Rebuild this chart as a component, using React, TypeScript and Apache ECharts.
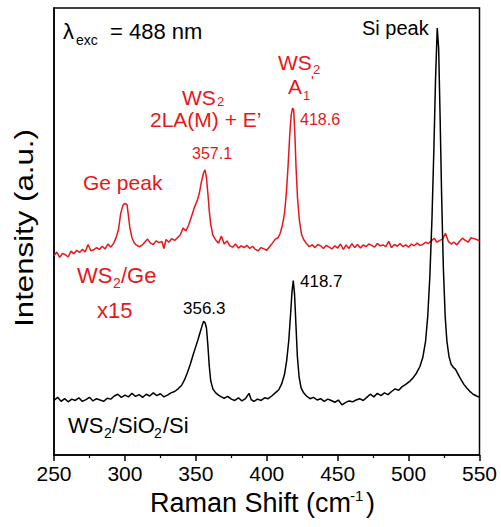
import React, { useEffect, useRef } from "react";
import * as echarts from "echarts";

// ---- data ----
const blackShift = [
  250, 252.5, 255, 257.5, 260, 262.5, 265, 267.5, 270, 272.5, 275, 277.5, 280, 282.5, 285, 287.5, 290, 292.5, 295, 297.5,
  300, 302.5, 305, 307.5, 310, 312.5, 315, 317.5, 320, 322.5, 325, 327.5, 330, 332.5, 335, 337.5, 340, 342, 344, 346,
  348, 350, 351.5, 353, 354.5, 355.5, 356.5, 357.5, 358.5, 359.5, 360.5, 362, 364, 366, 368, 370, 372.5, 375, 377.5, 380,
  382.5, 385, 387.5, 389, 391, 393.5, 396, 398.5, 401, 403.5, 406, 408.5, 410.5, 412.5, 414, 415.5, 416.8, 417.8, 418.7, 419.6,
  420.6, 421.6, 422.8, 424.2, 426, 428, 430.5, 433, 435.5, 438, 440.5, 443, 445.5, 448, 450.5, 453, 455.5, 458, 460.5, 463,
  465.5, 468, 470.5, 473, 475.5, 478, 480.5, 483, 485.5, 488, 490.5, 493, 495.5, 498, 500.5, 503, 505.5, 508, 510, 512,
  513.5, 515, 516.5, 517.8, 519, 520.2, 521.2, 522.2, 523.3, 524.5, 525.8, 527, 528.5, 530, 531.5, 533, 534.5, 536, 537.5, 539,
  541, 543, 545.5, 548, 550,
];
const blackIntensity = [
  12.2, 12.9, 12.0, 12.6, 11.9, 12.5, 12.2, 12.8, 12.0, 12.4, 12.9, 12.1, 12.6, 12.3, 12.0, 12.7, 12.5, 13.2, 13.6, 12.9,
  13.4, 13.0, 13.8, 13.1, 13.5, 12.9, 13.6, 13.2, 13.9, 13.3, 13.7, 13.0, 13.4, 13.9, 14.2, 14.8, 15.6, 16.8, 18.4, 20.2,
  22.3, 24.3, 25.8, 27.4, 29.0, 29.9, 29.6, 28.4, 24.5, 19.8, 16.6, 14.8, 13.9, 13.4, 13.0, 12.7, 13.1, 12.5, 12.2, 12.8,
  12.1, 12.6, 13.8, 12.4, 12.0, 12.5, 12.2, 12.8, 12.6, 13.2, 13.9, 14.6, 15.9, 18.0, 21.0, 25.5, 31.5, 36.5, 39.0, 36.0,
  29.0, 22.0, 17.5, 15.0, 13.9, 13.2, 12.6, 12.9, 12.3, 12.6, 12.0, 12.5, 12.2, 11.8, 12.3, 11.2, 11.7, 12.1, 11.9, 12.3,
  12.6, 12.2, 12.9, 13.6, 13.0, 13.8, 13.3, 13.9, 13.5, 14.2, 14.8, 14.5, 15.3, 15.8, 16.4, 17.2, 18.3, 19.8, 21.8, 25.5,
  31.0, 40.0, 53.0, 68.0, 84.0, 95.5, 91.0, 76.0, 58.0, 42.0, 31.0, 25.5, 22.0, 20.3, 19.6, 19.2, 18.3, 17.4, 16.6, 15.8,
  15.0, 14.3, 13.6, 13.2, 12.9,
];

const redShift = [
  250, 252, 254, 256, 258, 260, 262, 264, 266, 268, 270, 272, 274, 276, 278, 280, 282, 284, 286, 288,
  290, 292, 294, 295.5, 297, 298.5, 300, 301.5, 302.5, 303.5, 305, 306.5, 308, 310, 312, 314, 316, 318, 320, 322,
  324, 326, 327.5, 329, 331, 333, 335, 337, 339, 341, 343, 345, 347, 349, 351, 352.5, 354, 355.5, 356.5, 357.5,
  358.5, 359.5, 360.5, 362, 364, 366, 368, 370, 372, 374, 376, 378, 380, 382, 384, 386, 388, 390, 392, 394,
  396, 398, 400, 402, 404, 406, 408, 409.5, 411, 412.5, 413.8, 415, 416.2, 417.2, 418.2, 419, 419.8, 420.7, 421.7, 423,
  424.5, 426, 428, 430, 432, 434, 436, 438, 440, 442, 444, 446, 448, 450, 452, 454, 456, 458, 460, 462,
  464, 466, 468, 470, 472, 474, 476, 478, 480, 482, 484, 486, 488, 490, 492, 494, 496, 498, 500, 502,
  504, 506, 508, 510, 512, 514, 516, 518, 520, 522, 524, 526, 528, 530, 532, 534, 536, 538, 540, 542,
  544, 546, 548, 550,
];
const redIntensity = [
  44.6, 45.4, 44.2, 45.1, 44.8, 44.3, 45.6, 45.0, 45.8, 45.3, 46.0, 45.4, 47.1, 45.7, 45.9, 46.4, 46.0, 46.7, 46.1, 47.2,
  46.5, 47.3, 48.8, 50.5, 54.0, 55.8, 56.3, 56.0, 53.5, 50.8, 48.6, 47.5, 47.0, 46.6, 46.9, 47.6, 48.3, 47.4, 47.1, 47.9,
  47.5, 47.8, 46.2, 48.2, 47.6, 48.4, 48.0, 48.6, 49.2, 50.8, 50.1, 51.5, 53.4, 55.4, 56.9, 58.6, 61.2, 63.2, 63.8, 62.0,
  58.5, 54.5, 51.6, 49.2, 48.1, 47.4, 49.0, 47.2, 47.9, 46.8, 46.5, 47.2, 46.3, 46.8, 46.4, 46.9, 46.2, 46.7, 46.0, 45.7,
  46.4, 46.1, 45.8, 46.6, 47.4, 48.3, 48.6, 49.6, 51.4, 54.0, 58.5, 64.5, 71.5, 76.0, 77.6, 77.2, 72.0, 64.0, 57.5, 52.5,
  49.4, 48.2, 47.3, 46.6, 47.0, 46.4, 47.1, 46.8, 46.2, 46.9, 46.5, 46.1, 46.8, 46.3, 47.2, 46.0, 47.0, 46.2, 47.3, 46.4,
  47.1, 46.3, 47.0, 46.6, 47.2, 46.9, 46.5, 47.3, 46.8, 47.0, 46.6, 47.8, 46.4, 47.1, 46.7, 47.3, 46.6, 47.0, 46.5, 47.2,
  46.8, 47.4, 46.9, 47.1, 47.6, 47.3, 47.9, 48.5, 47.6, 48.0, 48.3, 49.6, 47.8, 47.2, 47.6, 47.0, 47.8, 48.5, 48.0, 47.6,
  48.6, 48.4, 48.2, 47.9,
];

const xTicks = { min: 250, max: 550, interval: 50 };

const RED = "#e8161b";
const FONT = '"Liberation Sans", Arial, Helvetica, sans-serif';

function txt(text: string, x: number, y: number, size: number, color: string, extra: any = {}) {
  return {
    type: "text",
    x,
    y,
    z: 100,
    style: {
      text,
      fill: color,
      fontSize: size,
      fontFamily: FONT,
      align: "left",
      verticalAlign: "middle",
    },
    ...extra,
  };
}

export default function App() {
  const ref = useRef<HTMLDivElement>(null);

  useEffect(() => {
    document.body.style.margin = "0";
    if (!ref.current) return;
    const chart = echarts.init(ref.current, undefined, { renderer: "svg" });

    const black = blackShift.map((x, i) => [x, blackIntensity[i]]);
    const red = redShift.map((x, i) => [x, redIntensity[i]]);

    chart.setOption({
      animation: false,
      backgroundColor: "#fff",
      grid: {
        left: 54,
        right: 21.5,
        top: 8,
        bottom: 72,
        show: true,
        borderColor: "#000",
        borderWidth: 1.5,
        backgroundColor: "transparent",
      },
      xAxis: {
        type: "value",
        min: xTicks.min,
        max: xTicks.max,
        interval: xTicks.interval,
        axisLine: { show: true, lineStyle: { color: "#000", width: 1.5 } },
        axisTick: { show: true, length: 6, lineStyle: { color: "#000", width: 1.5 } },
        minorTick: { show: true, splitNumber: 2, length: 3, lineStyle: { color: "#000", width: 1.2 } },
        splitLine: { show: false },
        minorSplitLine: { show: false },
        axisLabel: { color: "#000", fontSize: 21, fontFamily: FONT, margin: 8 },
      },
      yAxis: {
        type: "value",
        min: 0,
        max: 100,
        axisLine: { show: true, lineStyle: { color: "#000", width: 1.5 } },
        axisTick: { show: false },
        axisLabel: { show: false },
        splitLine: { show: false },
      },
      series: [
        {
          type: "line",
          data: red,
          showSymbol: false,
          symbol: "none",
          lineStyle: { color: RED, width: 1.5 },
          itemStyle: { color: RED },
          z: 2,
        },
        {
          type: "line",
          data: black,
          showSymbol: false,
          symbol: "none",
          lineStyle: { color: "#000", width: 1.5 },
          itemStyle: { color: "#000" },
          z: 3,
        },
      ],
      graphic: [
        // excitation wavelength
        txt("λ", 63, 31, 22, "#000"),
        txt("exc", 76, 40, 14, "#000"),
        txt("= 488 nm", 110, 31, 22, "#000"),
        // Si peak
        txt("Si peak", 362, 28, 20, "#000"),
        // red A1' label
        txt("WS", 278, 62, 21, RED),
        txt("2", 313, 69, 13, RED),
        txt("A", 288, 86, 21, RED),
        txt("1", 303, 95, 13, RED),
        txt("'", 311, 80, 15, RED),
        txt("418.6", 300, 119, 16, RED),
        // red 2LA(M)+E' label
        txt("WS", 182, 97, 21, RED),
        txt("2", 217, 101, 13, RED),
        txt("2LA(M) + E’", 150, 119, 21, RED),
        txt("357.1", 192, 153, 16, RED),
        // Ge peak
        txt("Ge peak", 83, 182, 21, RED),
        // WS2/Ge x15
        txt("WS", 77, 275, 22, RED),
        txt("2", 113, 283, 14, RED),
        txt("/Ge", 121, 275, 22, RED),
        txt("x15", 97, 310, 22, RED),
        // black peak labels
        txt("356.3", 183, 308, 17, "#000"),
        txt("418.7", 300, 281, 17, "#000"),
        // WS2/SiO2/Si
        txt("WS", 68, 425, 22, "#000"),
        txt("2", 104, 433, 14, "#000"),
        txt("/SiO", 112, 425, 22, "#000"),
        txt("2", 154, 433, 14, "#000"),
        txt("/Si", 163, 425, 22, "#000"),
        // x axis title
        txt("Raman Shift (cm", 150, 503, 27, "#000"),
        txt("-1", 350, 495, 15, "#000"),
        txt(")", 366, 503, 27, "#000"),
        // y axis title
        {
          type: "text",
          x: 24,
          y: 228,
          rotation: Math.PI / 2,
          scaleX: 1.2,
          z: 100,
          style: {
            text: "Intensity (a.u.)",
            fill: "#000",
            fontSize: 26,
            fontFamily: FONT,
            align: "center",
            verticalAlign: "middle",
          },
        },
      ],
    });

    return () => chart.dispose();
  }, []);

  return <div ref={ref} style={{ width: 501, height: 527 }} />;
}
